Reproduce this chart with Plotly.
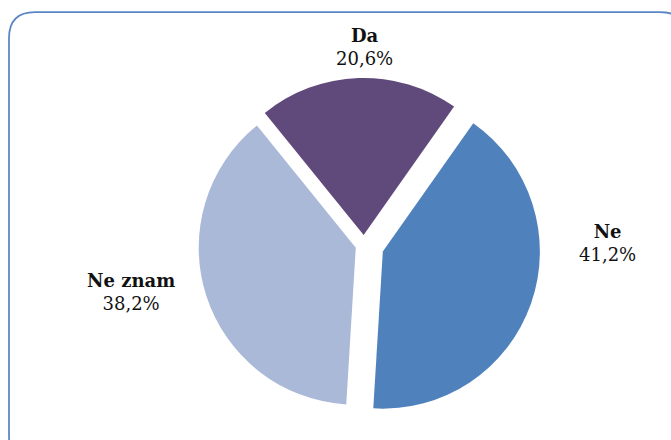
import plotly.graph_objects as go

W, H = 671, 440

labels = ["Da", "Ne", "Ne znam"]
values = [20.6, 41.2, 38.2]
colors = ["#604A7B", "#4F81BD", "#AAB9D8"]
pulls = [0.064, 0.127, 0.055]

# label anchor positions in pixels (x, y from top)
label_pos = [(364, 47), (607, 243), (131, 292)]

# pie domain in pixels: center (364, 245), half extent 177
cx, cy, half = 364, 245, 177

fig = go.Figure()
fig.add_trace(go.Pie(
    labels=labels,
    values=values,
    marker=dict(colors=colors, line=dict(width=0)),
    pull=pulls,
    sort=False,
    direction="clockwise",
    rotation=-39,
    textinfo="none",
    hoverinfo="label+percent",
    showlegend=False,
    domain=dict(x=[(cx - half) / W, (cx + half) / W],
                y=[1 - (cy + half) / H, 1 - (cy - half) / H]),
))

annotations = []
for lab, val, (px, py) in zip(labels, values, label_pos):
    txt = f"<b>{lab}</b><br>{val:.1f}%".replace(".", ",")
    annotations.append(dict(
        x=px / W, y=1 - py / H, xref="paper", yref="paper",
        text=txt, showarrow=False, xanchor="center", yanchor="middle",
        align="center",
        font=dict(family="DejaVu Serif", size=18, color="#111111"),
    ))

# rounded border (pixel -> paper)
def px_(x):
    return x / W

def py_(y):
    return 1 - y / H

L, T, R, B, r = 9, 12, 686, 462, 26
path = (
    f"M {px_(L)},{py_(T + r)} "
    f"Q {px_(L)},{py_(T)} {px_(L + r)},{py_(T)} "
    f"L {px_(R - r)},{py_(T)} "
    f"Q {px_(R)},{py_(T)} {px_(R)},{py_(T + r)} "
    f"L {px_(R)},{py_(B - r)} "
    f"Q {px_(R)},{py_(B)} {px_(R - r)},{py_(B)} "
    f"L {px_(L + r)},{py_(B)} "
    f"Q {px_(L)},{py_(B)} {px_(L)},{py_(B - r)} Z"
)

fig.update_layout(
    width=W, height=H,
    margin=dict(l=0, r=0, t=0, b=0),
    paper_bgcolor="white",
    plot_bgcolor="white",
    annotations=annotations,
    shapes=[dict(type="path", xref="paper", yref="paper", path=path,
                 line=dict(color="#5A86C3", width=1.75), layer="below")],
)

fig.write_html("out.html",
               config={"displayModeBar": False},
               post_script="document.body.style.margin='0';document.body.style.overflow='hidden';")
